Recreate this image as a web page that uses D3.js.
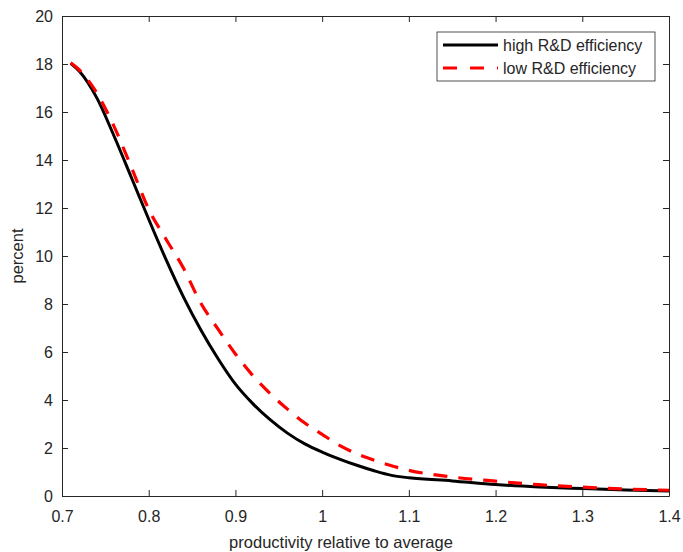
<!DOCTYPE html>
<html><head><meta charset="utf-8">
<script src="https://cdn.jsdelivr.net/npm/d3@7"></script>
<style>body{margin:0;background:#fff}svg{display:block}text{font-family:"Liberation Sans",Arial,sans-serif;fill:#262626}</style>
</head><body>
<svg id="c" width="683" height="552"></svg>
<script>
const xs = [0.71,0.72,0.74,0.76,0.78,0.80,0.82,0.84,0.86,0.88,0.90,0.92,0.94,0.96,0.98,1.00,1.02,1.04,1.06,1.08,1.10,1.15,1.20,1.25,1.30,1.35,1.40];
const highRD = [18.03,17.7,16.6,15.0,13.27,11.53,9.85,8.3,6.93,5.72,4.66,3.85,3.18,2.62,2.17,1.83,1.54,1.28,1.05,0.86,0.76,0.63,0.48,0.38,0.31,0.25,0.21];
const lowRD = [18.05,17.75,16.8,15.4,13.7,11.95,10.7,9.5,8.04,6.95,5.92,5.02,4.27,3.62,3.04,2.57,2.11,1.76,1.49,1.26,1.07,0.79,0.62,0.47,0.37,0.29,0.24];
const xTicks = [0.7,0.8,0.9,1,1.1,1.2,1.3,1.4];
const yTicks = [0,2,4,6,8,10,12,14,16,18,20];
const seriesNames = ["high R&D efficiency","low R&D efficiency"];

const svg = d3.select("#c");
const L=62,R=669,T=16,B=496;
const x = d3.scaleLinear().domain([0.7,1.4]).range([L,R]);
const y = d3.scaleLinear().domain([0,20]).range([B,T]);
const ax = "#262626";

const g = svg.append("g");
g.append("g").attr("transform",`translate(0,${B})`)
 .call(d3.axisBottom(x).tickValues(xTicks).tickSizeInner(-6).tickSizeOuter(0).tickPadding(15).tickFormat(d3.format("")))
 .call(s=>{s.select(".domain").attr("stroke",ax);s.selectAll("line").attr("stroke",ax);s.selectAll("text").style("font-size","16px").attr("fill",ax);});
g.append("g").attr("transform",`translate(0,${T})`)
 .call(d3.axisTop(x).tickValues(xTicks).tickSizeInner(-6).tickSizeOuter(0).tickFormat(""))
 .call(s=>{s.select(".domain").attr("stroke",ax);s.selectAll("line").attr("stroke",ax);});
g.append("g").attr("transform",`translate(${L},0)`)
 .call(d3.axisLeft(y).tickValues(yTicks).tickSizeInner(-6).tickSizeOuter(0).tickPadding(9))
 .call(s=>{s.select(".domain").attr("stroke",ax);s.selectAll("line").attr("stroke",ax);s.selectAll("text").style("font-size","16px").attr("fill",ax);});
g.append("g").attr("transform",`translate(${R},0)`)
 .call(d3.axisRight(y).tickValues(yTicks).tickSizeInner(-6).tickSizeOuter(0).tickFormat(""))
 .call(s=>{s.select(".domain").attr("stroke",ax);s.selectAll("line").attr("stroke",ax);});

const line = d3.line().x((d,i)=>x(xs[i])).y(d=>y(d)).curve(d3.curveMonotoneX);
svg.append("path").attr("d",line(highRD)).attr("fill","none").attr("stroke","#000").attr("stroke-width",3).attr("stroke-linejoin","round");
svg.append("path").attr("d",line(lowRD)).attr("fill","none").attr("stroke","#ff0000").attr("stroke-width",3.2).attr("stroke-dasharray","14,11");

svg.append("text").attr("x",341).attr("y",548).attr("text-anchor","middle").style("font-size","16.5px").text("productivity relative to average");
svg.append("text").attr("transform",`translate(23,${(T+B)/2}) rotate(-90)`).attr("text-anchor","middle").style("font-size","16.5px").text("percent");

const lg = svg.append("g");
lg.append("rect").attr("x",437).attr("y",32).attr("width",218).attr("height",49).attr("fill","#fff").attr("stroke",ax).attr("stroke-width",0.8);
const rows=[{c:"#000",d:null,y:45,t:seriesNames[0]},{c:"#ff0000",d:"14,13",y:68,t:seriesNames[1]}];
rows.forEach(r=>{
  lg.append("line").attr("x1",443).attr("x2",498).attr("y1",r.y).attr("y2",r.y).attr("stroke",r.c).attr("stroke-width",3.2).attr("stroke-dasharray",r.d);
  lg.append("text").attr("x",503).attr("y",r.y+5.5).style("font-size","16px").attr("fill","#000").text(r.t);
});
</script>
</body></html>
